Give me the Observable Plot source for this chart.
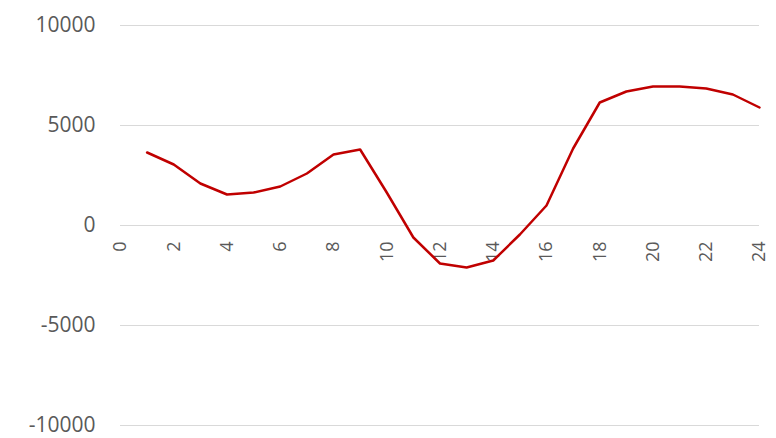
<!DOCTYPE html>
<html>
<head>
<meta charset="utf-8">
<script src="https://cdn.jsdelivr.net/npm/d3@7"></script>
<script src="https://cdn.jsdelivr.net/npm/@observablehq/plot@0.6"></script>
<style>
  html, body { margin: 0; padding: 0; background: #fff; }
  #chart svg { display: block; }
</style>
</head>
<body>
<div id="chart"></div>
<script>
// Hourly values (hour 1..24)
const hours = [1, 2, 3, 4, 5, 6, 7, 8, 9, 10, 11, 12, 13, 14, 15, 16, 17, 18, 19, 20, 21, 22, 23, 24];
const values = [3650, 3050, 2100, 1550, 1650, 1950, 2600, 3550, 3800, 1650, -600, -1900,
                -2100, -1750, -450, 1000, 3850, 6150, 6700, 6950, 6950, 6850, 6550, 5900];

// Axis ticks
const xTicks = [0, 2, 4, 6, 8, 10, 12, 14, 16, 18, 20, 22, 24];
const yTicks = [-10000, -5000, 0, 5000, 10000];

const data = hours.map((h, i) => ({hour: h, value: values[i]}));

const font = "'Open Sans', 'Liberation Sans', sans-serif";
const textColor = "#595959";

const chart = Plot.plot({
  width: 776,
  height: 438,
  marginLeft: 120,
  marginRight: 17,
  marginTop: 25,
  marginBottom: 13,
  style: {fontFamily: font, background: "#fff"},
  x: {domain: [0, 24], axis: null},
  y: {domain: [-10000, 10000], axis: null},
  marks: [
    Plot.gridY(yTicks, {stroke: "#d9d9d9", strokeOpacity: 1, strokeWidth: 1}),
    Plot.axisY(yTicks, {
      label: null,
      tickSize: 0,
      tickPadding: 25,
      fontSize: 21,
      fill: textColor,
      tickFormat: d => String(d)
    }),
    // category labels sit just under the zero line, rotated
    Plot.text(xTicks, {
      x: d => d,
      y: 0,
      text: d => String(d),
      rotate: -90,
      textAnchor: "end",
      lineAnchor: "middle",
      dy: 16,
      fontSize: 18,
      fill: textColor
    }),
    Plot.line(data, {
      x: "hour",
      y: "value",
      stroke: "#c00000",
      strokeWidth: 2.5,
      strokeLinejoin: "round",
      strokeLinecap: "round"
    })
  ]
});

document.getElementById("chart").appendChild(chart);
</script>
</body>
</html>
